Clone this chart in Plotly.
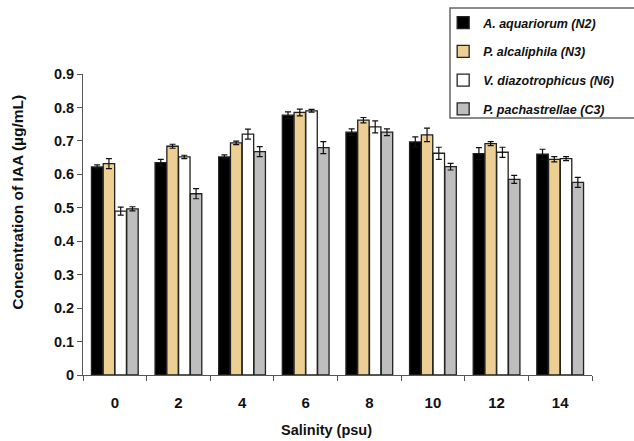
import plotly.graph_objects as go

salinity = ["0", "2", "4", "6", "8", "10", "12", "14"]
series_names = ["A. aquariorum (N2)", "P. alcaliphila (N3)", "V. diazotrophicus (N6)", "P. pachastrellae (C3)"]
n2 = [0.622, 0.635, 0.652, 0.777, 0.726, 0.697, 0.662, 0.660]
n3 = [0.632, 0.684, 0.694, 0.785, 0.762, 0.718, 0.692, 0.645]
n6 = [0.490, 0.652, 0.720, 0.790, 0.742, 0.663, 0.666, 0.647]
c3 = [0.497, 0.542, 0.668, 0.680, 0.726, 0.623, 0.585, 0.576]
n2_err = [0.006, 0.010, 0.006, 0.010, 0.010, 0.015, 0.018, 0.015]
n3_err = [0.015, 0.006, 0.005, 0.010, 0.008, 0.020, 0.006, 0.008]
n6_err = [0.012, 0.005, 0.015, 0.004, 0.018, 0.018, 0.015, 0.006]
c3_err = [0.006, 0.015, 0.015, 0.018, 0.010, 0.010, 0.012, 0.015]
x_title = "Salinity (psu)"
y_title = "Concentration of IAA (µg/mL)"

values = [n2, n3, n6, c3]
errors = [n2_err, n3_err, n6_err, c3_err]
colors = ["#000000", "#EDCF93", "#FFFFFF", "#BEBEBE"]

fig = go.Figure()
for i, (name, v, e, c) in enumerate(zip(series_names, values, errors, colors)):
    fig.add_trace(go.Bar(
        x=salinity, y=v, name=name, legendgroup=f"g{i}",
        marker=dict(color=c, line=dict(color="#222222", width=1.3)),
        error_y=dict(type="data", array=e, visible=True, color="#111111", thickness=1.2, width=3),
    ))

fig.update_layout(
    width=634, height=441,
    margin=dict(l=83, r=42, t=74, b=66, autoexpand=False),
    paper_bgcolor="white", plot_bgcolor="white",
    barmode="group", bargap=0.26, bargroupgap=0.03,
    font=dict(family="Liberation Sans, Arial, sans-serif", color="#111111"),
    showlegend=True,
    legend=dict(
        xref="container", yref="container",
        x=0.699, y=1 - 8 / 441, xanchor="left", yanchor="top",
        bgcolor="rgba(0,0,0,0)", borderwidth=0,
        font=dict(size=12.5, style="italic", weight="bold", color="#111111"),
        traceorder="grouped", tracegroupgap=9.5, itemwidth=30,
    ),
    xaxis=dict(
        type="category", showline=True, linecolor="#555555", linewidth=1,
        ticks="outside", tickson="boundaries", ticklen=5, tickcolor="#555555",
        ticklabelstandoff=14,
        tickfont=dict(size=15, weight="bold", color="#111111"),
        showgrid=False, automargin=False,
    ),
    yaxis=dict(
        range=[0, 0.9], dtick=0.1, showline=True, linecolor="#555555", linewidth=1,
        ticks="outside", ticklen=5, tickcolor="#555555",
        tickfont=dict(size=14.5, weight="bold", color="#111111"),
        showgrid=False, zeroline=False, automargin=False,
    ),
    annotations=[
        dict(text=y_title, xref="paper", yref="paper", x=-0.128, y=0.575,
             xanchor="center", yanchor="middle", textangle=-90, showarrow=False,
             font=dict(size=15.5, weight="bold", color="#111111")),
        dict(text=x_title, xref="paper", yref="paper", x=0.479, y=-0.183,
             xanchor="center", yanchor="middle", showarrow=False,
             font=dict(size=14.5, weight="bold", color="#111111")),
    ],
    shapes=[dict(type="rect", xref="paper", yref="paper", x0=0.721, x1=1.2, y0=0.854, y1=1.219,
                 line=dict(color="#666666", width=1.5), fillcolor="rgba(0,0,0,0)")],
)

fig.write_html("out.html", config={"displayModeBar": False},
               post_script="document.body.style.margin='0';document.body.style.overflow='hidden';")
